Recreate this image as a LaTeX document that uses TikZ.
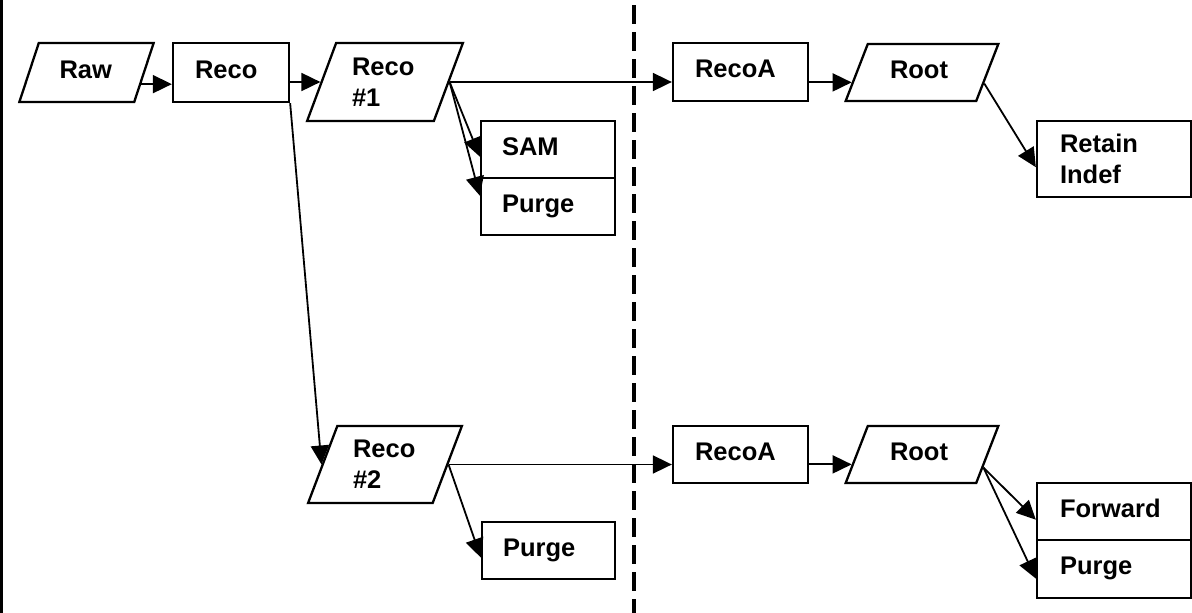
\documentclass[tikz,border=0pt]{standalone}
\usepackage{fontspec}
\setmainfont{Liberation Sans}
\usetikzlibrary{shapes.geometric,arrows.meta}
\tikzset{
  lbl/.style={inner sep=0pt, align=left, text depth=6pt, font=\fontsize{25.5}{31}\selectfont\bfseries},
  proc/.style={lbl, draw, rectangle, line width=2.3pt},
  dataset/.style={lbl, draw, trapezium, trapezium left angle=#1,
    trapezium right angle=180-#1, trapezium stretches, line width=2.3pt},
  arr/.style={-{Triangle[length=19pt,width=18pt]}, line width=1.8pt}
}
\begin{document}
\begin{tikzpicture}[x=1pt,y=-1pt]
    \useasboundingbox (0,0) rectangle (1192,613);
    \draw[line width=3pt] (1,0) -- (1,613);
    \draw[line width=3.3pt, dash pattern=on 19pt off 8pt, dash phase=22pt] (634,0) -- (634,613);
    \node[dataset=65, minimum width=135pt, minimum height=59pt, text width=54pt] (raw) at (86.5,72.5) {Raw};
    \node[proc, minimum width=116pt, minimum height=59pt, text width=72pt] (reco) at (231,72.5) {Reco};
    \node[dataset=68, minimum width=156pt, minimum height=78pt, text width=66pt, text depth=] (reco1) at (385,82) {Reco\\\#1};
    \node[proc, minimum width=134pt, minimum height=57pt, text width=92pt] (sam) at (548,149.5) {SAM};
    \node[proc, minimum width=134pt, minimum height=57pt, text width=92pt] (purgea) at (548,206.5) {Purge};
    \node[proc, minimum width=135pt, minimum height=58pt, text width=91pt] (recoa) at (740.5,72) {RecoA};
    \node[dataset=61, minimum width=154pt, minimum height=57pt, text width=64pt] (root) at (922,72.5) {Root};
    \node[proc, minimum width=154pt, minimum height=76pt, text width=108pt, text depth=] (retain) at (1114,159) {Retain\\Indef};
    \node[dataset=68, minimum width=154pt, minimum height=77pt, text width=64pt, text depth=] (reco2) at (385,464.5) {Reco\\\#2};
    \node[proc, minimum width=133pt, minimum height=57pt, text width=91pt] (purgeb) at (548.5,550.5) {Purge};
    \node[proc, minimum width=135pt, minimum height=57pt, text width=91pt] (recoa2) at (740.5,454.5) {RecoA};
    \node[dataset=61, minimum width=154pt, minimum height=57pt, text width=64pt] (root2) at (922,454.5) {Root};
    \node[proc, minimum width=154pt, minimum height=57pt, text width=108pt] (fwd) at (1114,511.5) {Forward};
    \node[proc, minimum width=154pt, minimum height=58pt, text width=108pt] (purgec) at (1114,569) {Purge};
    \draw[arr] (raw.-12) -- (raw.-12 -| reco.west);
    \draw[arr] (reco.east |- reco1.west) -- (reco1.west);
    \draw[arr] (reco.south east) -- (reco2.west);
    \draw[arr] (reco1.east) -- (reco1.east -| recoa.west);
    \draw[arr] (reco1.east) -- (sam.186);
    \draw[arr] (reco1.east) -- (purgea.171);
    \draw[arr] (root.188 -| recoa.east) -- (root.188);
    \draw[arr] (root.-10) -- (retain.186);
    \draw[arr] (reco2.east) -- (reco2.east -| recoa2.west);
    \draw[arr] (reco2.east) -- (purgeb.186);
    \draw[arr] (root2.188 -| recoa2.east) -- (root2.188);
    \draw[arr] (root2.-12) -- (fwd.186);
    \draw[arr] (root2.-12) -- (purgec.187);
\end{tikzpicture}
\end{document}
